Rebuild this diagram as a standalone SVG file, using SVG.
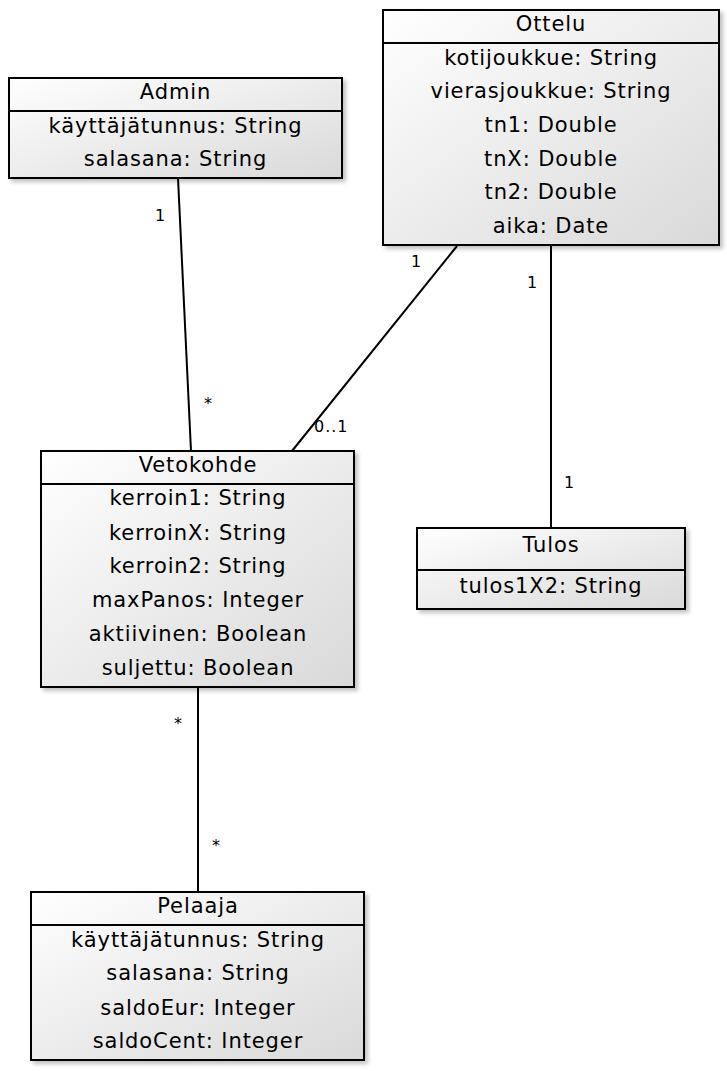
<svg xmlns="http://www.w3.org/2000/svg" width="727" height="1071" viewBox="0 0 727 1071">
<defs>
<linearGradient id="g" x1="0" y1="0" x2="1" y2="1">
<stop offset="0" stop-color="#ffffff"/>
<stop offset="1" stop-color="#d9d9d9"/>
</linearGradient>
<filter id="sh" x="-10%" y="-10%" width="130%" height="130%">
<feGaussianBlur in="SourceAlpha" stdDeviation="2"/>
<feOffset dx="3" dy="3" result="b"/>
<feComponentTransfer><feFuncA type="linear" slope="0.25"/></feComponentTransfer>
<feMerge><feMergeNode/><feMergeNode in="SourceGraphic"/></feMerge>
</filter>
</defs>
<style>
.box{fill:url(#g);stroke:#000;stroke-width:2;filter:url(#sh)}
.sep{stroke:#000;stroke-width:2}
.t{font-family:"DejaVu Sans",Verdana,sans-serif;font-size:21px;text-anchor:middle;fill:#000;letter-spacing:0.9px}
.m{font-family:"DejaVu Sans",Verdana,sans-serif;font-size:16px;fill:#000;letter-spacing:1px}
.c{stroke:#000;stroke-width:2;fill:none}
</style>
<g id="connectors">
<line class="c" x1="178" y1="178" x2="191" y2="451"/>
<line class="c" x1="457" y1="246" x2="292" y2="451"/>
<line class="c" x1="551" y1="246" x2="551" y2="528"/>
<line class="c" x1="198" y1="687" x2="198" y2="892"/>
<text class="m" x="155" y="221">1</text>
<text class="m" x="204" y="409">*</text>
<text class="m" x="411" y="267">1</text>
<text class="m" x="314" y="432">0..1</text>
<text class="m" x="527" y="288">1</text>
<text class="m" x="564" y="488">1</text>
<text class="m" x="174" y="729">*</text>
<text class="m" x="212" y="851">*</text>
</g>
<g id="admin">
<rect class="box" x="9" y="78" width="333" height="100"/>
<line class="sep" x1="9" y1="111" x2="342" y2="111"/>
<text class="t" x="175.5" y="99">Admin</text>
<text class="t" x="175.5" y="133">käyttäjätunnus: String</text>
<text class="t" x="175.5" y="166">salasana: String</text>
</g>
<g id="ottelu">
<rect class="box" x="383" y="10" width="336" height="235"/>
<line class="sep" x1="383" y1="43" x2="719" y2="43"/>
<text class="t" x="551" y="31">Ottelu</text>
<text class="t" x="551" y="65">kotijoukkue: String</text>
<text class="t" x="551" y="98">vierasjoukkue: String</text>
<text class="t" x="551" y="132">tn1: Double</text>
<text class="t" x="551" y="166">tnX: Double</text>
<text class="t" x="551" y="199">tn2: Double</text>
<text class="t" x="551" y="233">aika: Date</text>
</g>
<g id="vetokohde">
<rect class="box" x="41" y="451" width="313" height="236"/>
<line class="sep" x1="41" y1="484" x2="354" y2="484"/>
<text class="t" x="198" y="472">Vetokohde</text>
<text class="t" x="198" y="505">kerroin1: String</text>
<text class="t" x="198" y="540">kerroinX: String</text>
<text class="t" x="198" y="573">kerroin2: String</text>
<text class="t" x="198" y="607">maxPanos: Integer</text>
<text class="t" x="198" y="641">aktiivinen: Boolean</text>
<text class="t" x="198" y="675">suljettu: Boolean</text>
</g>
<g id="tulos">
<rect class="box" x="417" y="528" width="268" height="81"/>
<line class="sep" x1="417" y1="570" x2="685" y2="570"/>
<text class="t" x="551" y="552">Tulos</text>
<text class="t" x="551" y="593">tulos1X2: String</text>
</g>
<g id="pelaaja">
<rect class="box" x="31" y="892" width="333" height="168"/>
<line class="sep" x1="31" y1="925" x2="364" y2="925"/>
<text class="t" x="198" y="913">Pelaaja</text>
<text class="t" x="198" y="947">käyttäjätunnus: String</text>
<text class="t" x="198" y="980">salasana: String</text>
<text class="t" x="198" y="1015">saldoEur: Integer</text>
<text class="t" x="198" y="1048">saldoCent: Integer</text>
</g>
</svg>
